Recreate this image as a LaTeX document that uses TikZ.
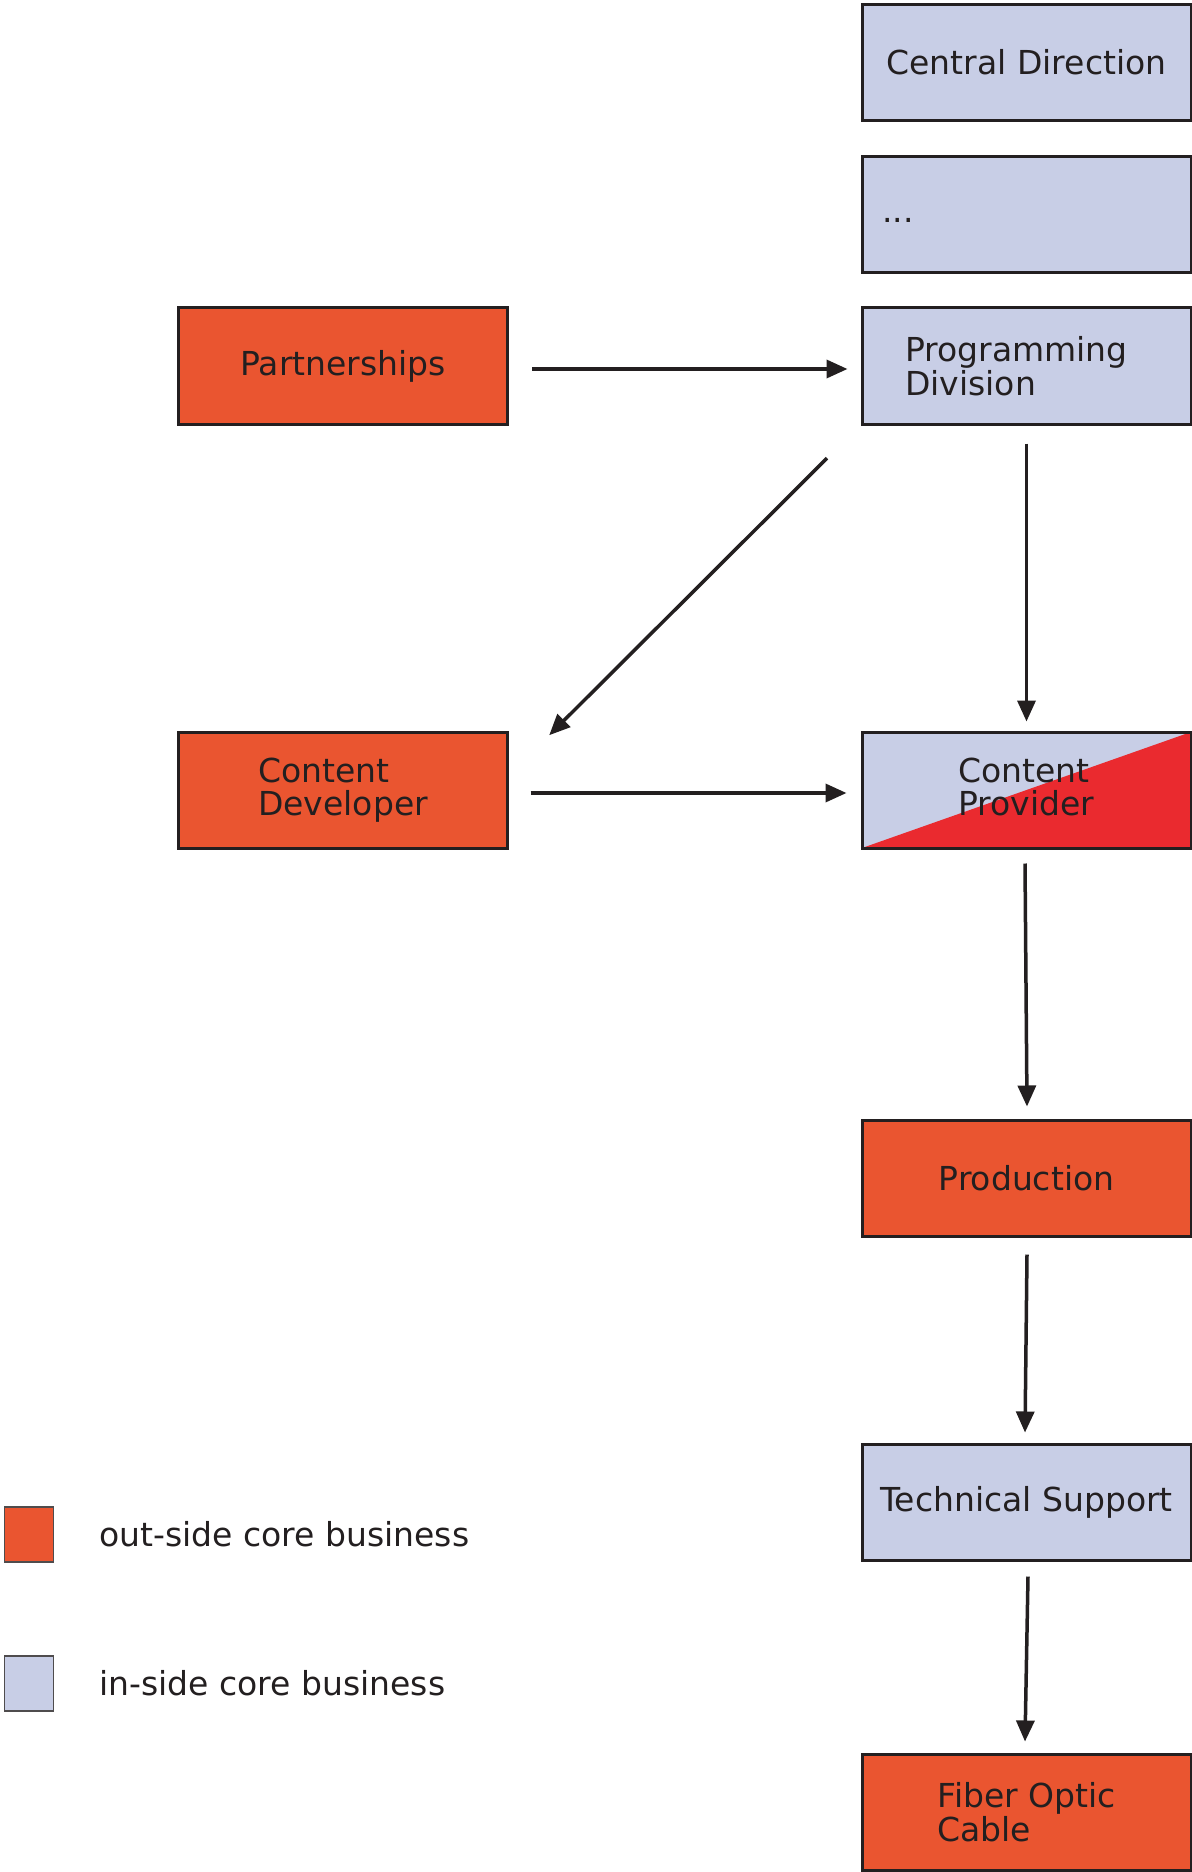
\documentclass[tikz,border=0pt]{standalone}
\usepackage{fontspec}
\setmainfont{DejaVu Sans}
\usetikzlibrary{arrows.meta}
\definecolor{outc}{HTML}{EA5530}
\definecolor{inc}{HTML}{C8CEE6}
\definecolor{redc}{HTML}{EA2A2F}
\definecolor{linec}{HTML}{231F20}
\begin{document}
\begin{tikzpicture}[x=0.5pt,y=-0.5pt,
  every node/.style={font=\fontsize{16.5pt}{16.7pt}\selectfont, text=linec},
  box/.style={draw=linec, line width=1.5pt, minimum width=164.5pt, minimum height=58pt, inner sep=0pt, align=left},
  outbox/.style={box, fill=outc},
  inbox/.style={box, fill=inc},
  arr/.style={draw=linec, line width=1.75pt, -{Triangle[length=10.5pt,width=9pt]}},
  legsq/.style={draw=linec!80, line width=0.6pt, minimum width=24.5pt, minimum height=27.5pt, inner sep=0pt}]
\useasboundingbox (0,0) rectangle (1192,1872);
\fill[white] (0,0) rectangle (1192,1872);

\node[inbox] (cd) at (1026.5,62.5) {Central Direction};
\node[inbox] (dots) at (1026.5,214.5) {};
\node[anchor=base west, inner sep=0pt] (dotstxt) at (882,223) {...};
\node[inbox] (prog) at (1026.5,366) {Programming\hspace*{10pt}\\Division};
\node[outbox] (part) at (343,366) {Partnerships};
\node[outbox] (cdev) at (343,790) {Content\\Developer\rule[-3.5pt]{0pt}{0pt}};
\node[inbox, path picture={\fill[redc] (path picture bounding box.south west) -- (path picture bounding box.south east) -- (path picture bounding box.north east) -- cycle;}] (cprov) at (1026.5,790) {Content\\Provider\rule[-3pt]{0pt}{0pt}};
\node[outbox] (prod) at (1026.5,1178) {Production};
\node[inbox] (tech) at (1026.5,1502) {Technical Support};
\node[outbox] (fiber) at (1026.5,1812) {Fiber Optic\\Cable};

\node[legsq, fill=outc] (lo) at (29,1534.5) {};
\node[anchor=west, inner sep=0pt] (lot) at (99,1534.5) {out-side core business};
\node[legsq, fill=inc] (li) at (29,1683.5) {};
\node[anchor=west, inner sep=0pt] (lit) at (99,1683.5) {in-side core business};

\draw[arr] ([shift={(23,3)}]part.east) -- ([shift={(-13,3)}]prog.west);
\draw[arr] ([shift={(-33.5,32.7)}]prog.south west) -- ([shift={(40.2,4.7)}]cdev.north east);
\draw[arr] ([shift={(0,18)}]prog.south) -- ([shift={(0,-9)}]cprov.north);
\draw[arr] ([shift={(21.5,3)}]cdev.east) -- ([shift={(-14,3)}]cprov.west);
\draw[arr] ([shift={(-1.5,14)}]cprov.south) -- ([shift={(0.5,-12)}]prod.north);
\draw[arr] ([shift={(0.5,17)}]prod.south) -- ([shift={(-1.5,-10)}]tech.north);
\draw[arr] ([shift={(1.5,15)}]tech.south) -- ([shift={(-1.5,-11)}]fiber.north);
\end{tikzpicture}
\end{document}
